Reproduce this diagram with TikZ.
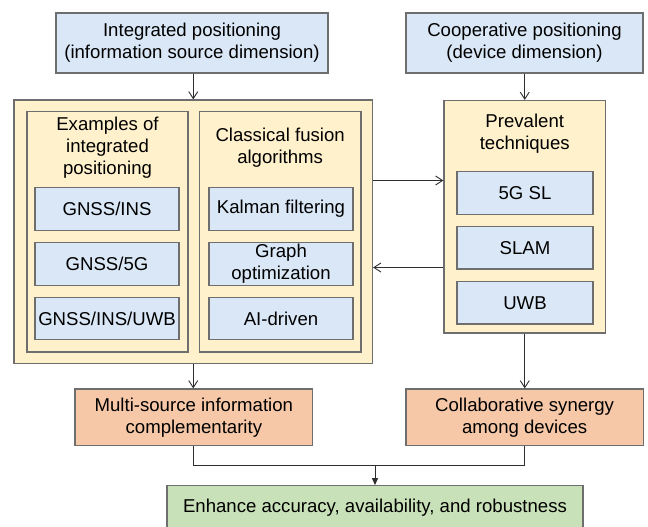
\documentclass[tikz,border=0pt]{standalone}
\usepackage{fontspec}
\setmainfont{Liberation Sans}
\usetikzlibrary{arrows.meta}
\definecolor{bluefill}{HTML}{DAE7F6}
\definecolor{yellowfill}{HTML}{FFF1CC}
\definecolor{orangefill}{HTML}{F6C8A8}
\definecolor{greenfill}{HTML}{C9E1B8}
\definecolor{edge}{HTML}{6E6E6E}
\definecolor{wire}{HTML}{2E2E2E}
\begin{document}
\begin{tikzpicture}[x=1pt,y=-1pt,
  txt/.style={align=center, inner sep=0pt, font=\fontsize{18.6}{21.8}\selectfont},
  box/.style={txt, draw=edge, line width=1.2pt},
  bluebox/.style={box, fill=bluefill},
  yellowbox/.style={box, fill=yellowfill},
  orangebox/.style={box, fill=orangefill},
  greenbox/.style={box, fill=greenfill},
  wireline/.style={draw=wire, line width=1pt},
  arr/.style={wireline, -{Straight Barb[length=7pt,width=9pt,line width=0.9pt]}},
  arrfill/.style={wireline, -{Triangle[length=7pt,width=6pt]}}]
\useasboundingbox (0,0) rectangle (648,527);
\clip (0,0) rectangle (648,527);

% source dimensions
\node[bluebox, minimum width=272pt, minimum height=60pt] (topL) at (192,43)
  {Integrated positioning\\(information source dimension)};
\node[bluebox, minimum width=237pt, minimum height=60pt] (topR) at (524.5,43)
  {Cooperative positioning\\(device dimension)};

% integrated positioning container
\node[yellowbox, minimum width=358.5pt, minimum height=263.5pt] (outL) at (193.25,231.75) {};
\node[yellowbox, minimum width=161pt, minimum height=240.3pt] (inL) at (107.5,231.85) {};
\node[yellowbox, minimum width=161.7pt, minimum height=240.3pt] (inR) at (280.15,231.85) {};
\node[txt] (tL) at (107.5,147.7) {Examples of\\integrated\\positioning};
\node[txt] (tR) at (280.15,148) {Classical fusion\\algorithms};

\node[bluebox, minimum width=144pt, minimum height=42.5pt] (g1) at (107,209) {GNSS/INS};
\node[bluebox, minimum width=144pt, minimum height=42.5pt] (g2) at (107,263.85) {GNSS/5G};
\node[bluebox, minimum width=144pt, minimum height=42.5pt] (g3) at (107,318.5) {GNSS/INS/UWB};
\node[bluebox, minimum width=144pt, minimum height=42.5pt] (a1) at (281,209) {Kalman filtering};
\node[bluebox, minimum width=144pt, minimum height=42.5pt] (a2) at (281,263.85) {Graph\\optimization};
\node[bluebox, minimum width=144pt, minimum height=42.5pt] (a3) at (281,318.5) {AI-driven};

% cooperative positioning container
\node[yellowbox, minimum width=161.5pt, minimum height=232.5pt] (outR) at (524.75,216.75) {};
\node[txt] (tP) at (524.75,133.5) {Prevalent\\techniques};
\node[bluebox, minimum width=136pt, minimum height=42.3pt] (p1) at (525,193) {5G SL};
\node[bluebox, minimum width=136pt, minimum height=42.3pt] (p2) at (525,247.85) {SLAM};
\node[bluebox, minimum width=136pt, minimum height=42.3pt] (p3) at (525,302.85) {UWB};

% outcomes
\node[orangebox, minimum width=237.7pt, minimum height=56.7pt] (oL) at (193.85,417.35)
  {Multi-source information\\complementarity};
\node[orangebox, minimum width=237.3pt, minimum height=56.7pt] (oR) at (524.65,417.35)
  {Collaborative synergy\\among devices};
\node[greenbox, minimum width=416pt, minimum height=44.6pt] (goal) at (375,508)
  {Enhance accuracy, availability, and robustness};

% connectors
\draw[arr] (topL.south -| outL.north) -- (outL.north);
\draw[arr] (topR.south -| outR.north) -- (outR.north);
\draw[arr] (outL.east |- 0,180.5) -- (outR.west |- 0,180.5);
\draw[arr] (outR.west |- 0,267.5) -- (outL.east |- 0,267.5);
\draw[arr] (outL.south) -- (outL.south |- oL.north);
\draw[arr] (outR.south) -- (outR.south |- oR.north);
\coordinate (join) at (goal.north |- 0,465.5);
\draw[wireline] (oL.south -| outL.south) |- (join) -| (oR.south -| outR.south);
\draw[arrfill] (join) -- (goal.north);
\end{tikzpicture}
\end{document}
